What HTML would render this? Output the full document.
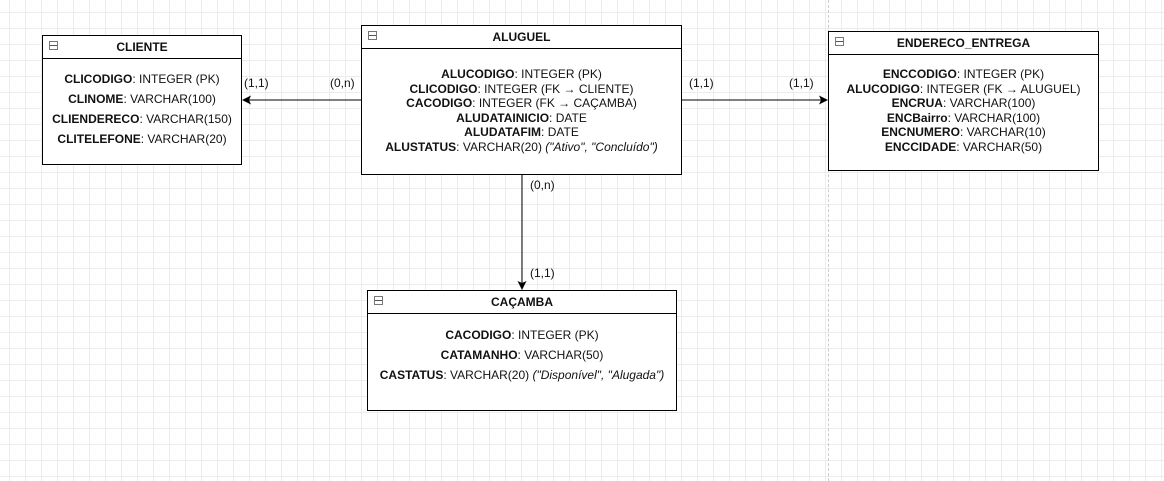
<!DOCTYPE html><html><head><meta charset="utf-8"><style>
body{margin:0;width:1164px;height:481px;overflow:hidden;background:#fff;
background-image:linear-gradient(#ececec 1px,transparent 1px),linear-gradient(90deg,#ececec 1px,transparent 1px);background-size:16px 16px;background-position:-7px -4px;font-family:"Liberation Sans",sans-serif;font-size:12px;color:#111;position:relative}
.b{position:absolute;border:1px solid #000;background:#fff;box-sizing:border-box}
.h{border-bottom:1px solid #000;font-weight:bold;text-align:center;position:relative;box-sizing:border-box}
.h:before{content:"";position:absolute;left:6px;top:5px;width:7px;height:7px;border:1px solid #777;background:linear-gradient(#fff 3px,#555 3px,#555 4px,#fff 4px)}
.r{text-align:center;white-space:nowrap}
.l{position:absolute;white-space:nowrap}
</style></head><body>
<div style="position:absolute;left:828px;top:0;height:481px;border-left:1px dashed #ccc"></div>
<svg width="1164" height="481" style="position:absolute;left:0;top:0">
<g stroke="#000" fill="none"><line x1="361" y1="100" x2="246" y2="100"/><line x1="682" y1="100" x2="824" y2="100"/><line x1="522" y1="175" x2="522" y2="286"/></g>
<path d="M242 100l9-4.5-2 4.5 2 4.5z M828 100l-9-4.5 2 4.5-2 4.5z M522 290l-4.5-9 4.5 2 4.5-2z" fill="#000"/>
</svg>
<div class="b" style="left:42px;top:35px;width:200px;height:130px"><div class="h" style="height:23px;line-height:23px">CLIENTE</div>
<div style="padding-top:10px;line-height:20px"><div class="r"><b>CLICODIGO</b>: INTEGER (PK)</div><div class="r"><b>CLINOME</b>: VARCHAR(100)</div><div class="r"><b>CLIENDERECO</b>: VARCHAR(150)</div><div class="r"><b>CLITELEFONE</b>: VARCHAR(20)</div></div></div>
<div class="b" style="left:361px;top:25px;width:321px;height:150px"><div class="h" style="height:23px;line-height:23px">ALUGUEL</div>
<div style="padding-top:18px;line-height:14.5px"><div class="r"><b>ALUCODIGO</b>: INTEGER (PK)</div><div class="r"><b>CLICODIGO</b>: INTEGER (FK → CLIENTE)</div><div class="r"><b>CACODIGO</b>: INTEGER (FK → CAÇAMBA)</div><div class="r"><b>ALUDATAINICIO</b>: DATE</div><div class="r"><b>ALUDATAFIM</b>: DATE</div><div class="r"><b>ALUSTATUS</b>: VARCHAR(20) <i>("Ativo", "Concluído")</i></div></div></div>
<div class="b" style="left:828px;top:31px;width:271px;height:140px"><div class="h" style="height:23px;line-height:23px">ENDERECO_ENTREGA</div>
<div style="padding-top:12px;line-height:14.5px"><div class="r"><b>ENCCODIGO</b>: INTEGER (PK)</div><div class="r"><b>ALUCODIGO</b>: INTEGER (FK → ALUGUEL)</div><div class="r"><b>ENCRUA</b>: VARCHAR(100)</div><div class="r"><b>ENCBairro</b>: VARCHAR(100)</div><div class="r"><b>ENCNUMERO</b>: VARCHAR(10)</div><div class="r"><b>ENCCIDADE</b>: VARCHAR(50)</div></div></div>
<div class="b" style="left:367px;top:290px;width:310px;height:121px"><div class="h" style="height:23px;line-height:23px">CAÇAMBA</div>
<div style="padding-top:11px;line-height:20px"><div class="r"><b>CACODIGO</b>: INTEGER (PK)</div><div class="r"><b>CATAMANHO</b>: VARCHAR(50)</div><div class="r"><b>CASTATUS</b>: VARCHAR(20) <i>("Disponível", "Alugada")</i></div></div></div>
<div class="l" style="left:244px;top:76px">(1,1)</div>
<div class="l" style="left:330px;top:76px">(0,n)</div>
<div class="l" style="left:689px;top:76px">(1,1)</div>
<div class="l" style="left:789px;top:76px">(1,1)</div>
<div class="l" style="left:530px;top:178px">(0,n)</div>
<div class="l" style="left:530px;top:266px">(1,1)</div>
</body></html>
